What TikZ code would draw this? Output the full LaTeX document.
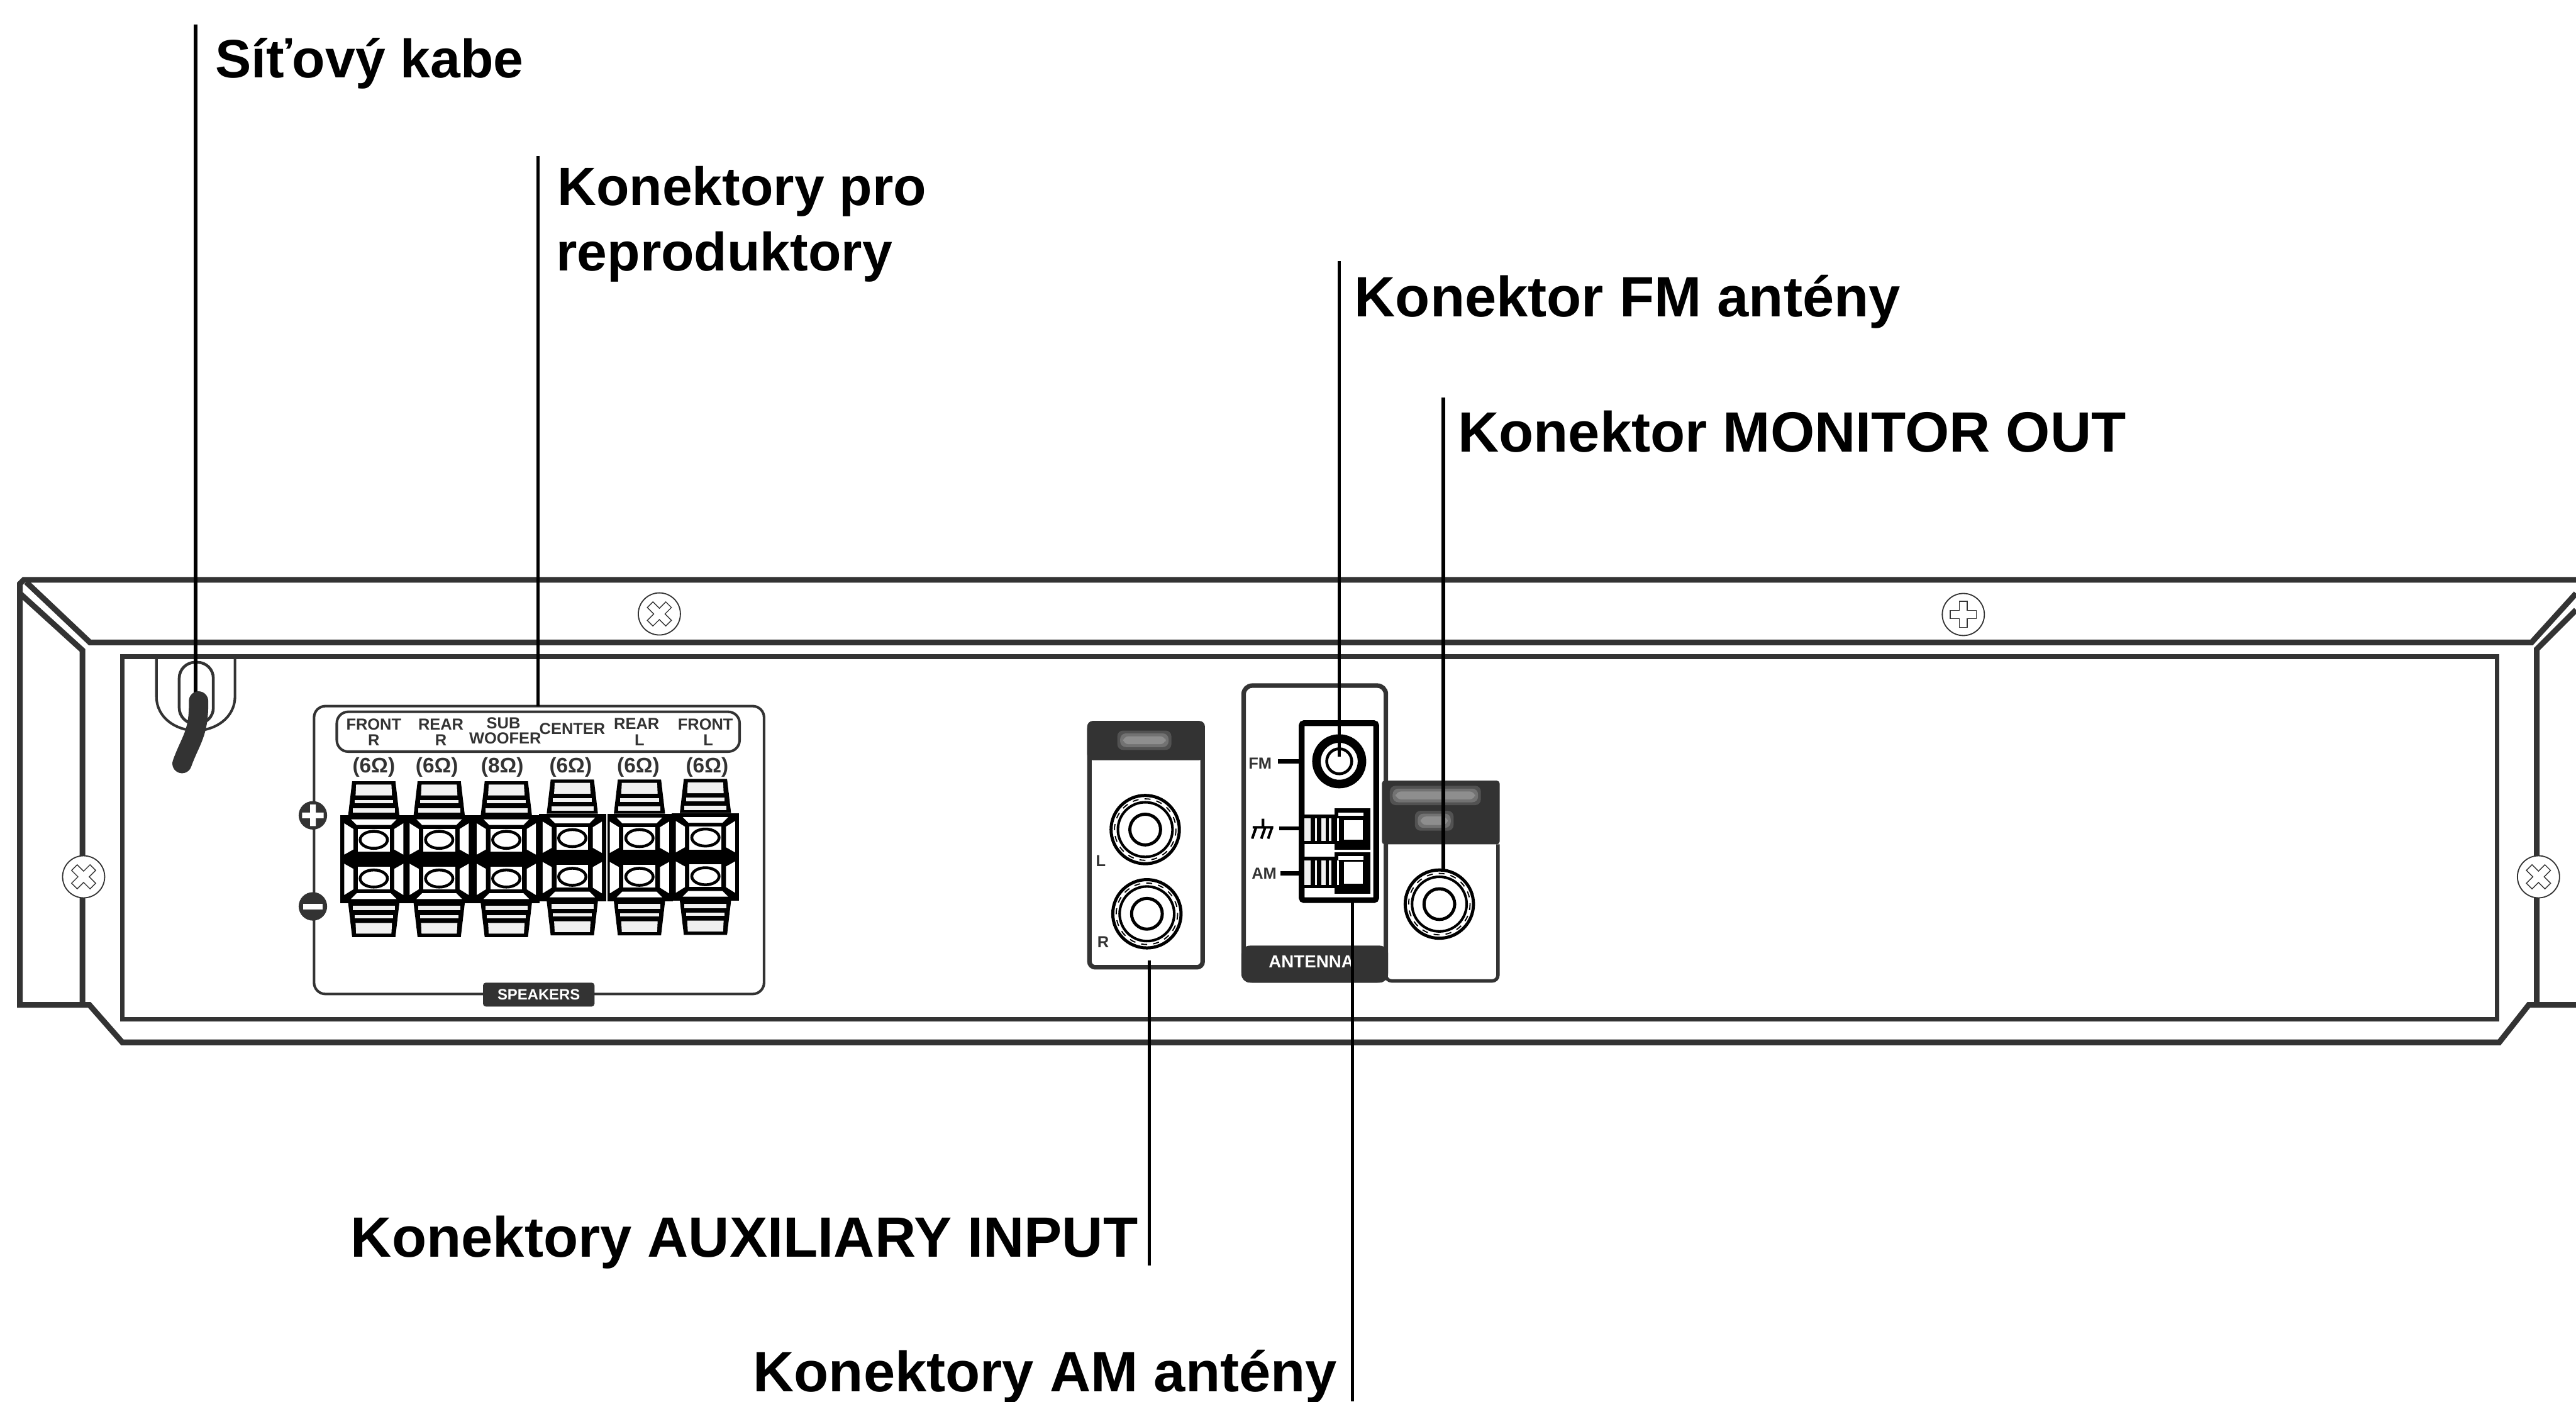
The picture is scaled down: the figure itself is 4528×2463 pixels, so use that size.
\documentclass[tikz,border=0pt]{standalone}
\usepackage{fontspec}
\setmainfont{Liberation Sans}
\definecolor{framegray}{HTML}{333333}
\definecolor{capgray}{HTML}{F0F0F0}
\definecolor{smudgegray}{HTML}{9A9A9A}
\newcommand{\smudgebox}[4]{%
  \foreach \inset/\op in {0/0.3,5/0.45,10/0.7}
    \fill[smudgegray,opacity=\op,rounded corners=1mm] ({#1+\inset},{#2+\inset}) rectangle ({#3-\inset},{#4-\inset});
}
\tikzset{
  frame/.style={line width=1mm,draw=framegray},
  panel/.style={line width=0.8mm,draw=framegray},
  thinbox/.style={line width=0.45mm,draw=framegray,rounded corners=2mm},
  leader/.style={line width=0.6mm,draw=black},
  lbl/.style={anchor=base west,inner sep=0pt,font=\fontsize{28.4}{32}\selectfont\bfseries},
  lblnarrow/.style={lbl,font=\fontsize{27}{32}\selectfont\bfseries},
  tiny/.style={inner sep=0pt,text=framegray,font=\fontsize{8}{9}\selectfont\bfseries},
  ohm/.style={inner sep=0pt,text=framegray,font=\fontsize{10.5}{11}\selectfont\bfseries},
  tag/.style={inner sep=0pt,text=white,font=\fontsize{8.7}{10}\selectfont\bfseries},
  screw/.pic={
    \filldraw[draw=framegray,fill=white,line width=0.2mm] (0,0) circle[radius=37];
    \draw[draw=framegray,line width=0.15mm] (-7,-23)--(7,-23)--(7,-7)--(23,-7)--(23,7)--(7,7)--(7,23)
      --(-7,23)--(-7,7)--(-23,7)--(-23,-7)--(-7,-7)--cycle;
  },
  rca/.pic={
    \filldraw[draw=black,fill=white,line width=0.55mm] (0,0) circle[radius=60];
    \draw[black,line width=0.2mm,dashed] (0,0) circle[radius=54];
    \draw[black,line width=0.45mm] (0,0) circle[radius=48];
    \draw[black,line width=0.55mm] (0,0) circle[radius=27];
  },
  terminal/.pic={
    \foreach \s in {1,-1}{
      \begin{scope}[yscale=\s]
        \fill[black] (-38,-137)--(38,-137)--(45,-77)--(-45,-77)--cycle;
        \fill[capgray] (-31,-131)--(31,-131)--(32,-112)--(-32,-112)--cycle;
        \fill[capgray] (-34,-104) rectangle (34,-98);
        \fill[capgray] (-37,-90) rectangle (37,-82);
        \fill[black] (-59,-77) rectangle (59,0);
        \fill[white] (-40,-70)--(40,-70)--(30,-60)--(-30,-60)--cycle;
        \fill[white] (-52,-63)--(-36,-53)--(-36,-17)--(-52,-8)--cycle;
        \fill[white] (52,-63)--(36,-53)--(36,-17)--(52,-8)--cycle;
        \fill[white] (-28,-53) rectangle (28,-13);
        \draw[black,line width=0.5mm] (0,-34) ellipse[x radius=24,y radius=15];
      \end{scope}
    }
  },
}
\begin{document}
\begin{tikzpicture}[x=0.01cm,y=-0.01cm]
  \useasboundingbox (0,0) rectangle (4528,2463);
  % cabinet
  \draw[frame] (4528,1019) -- (42,1019) -- (35,1026) -- (35,1766) -- (157,1766) -- (215,1832) -- (4393,1832)
    -- (4445,1766) -- (4528,1766);
  \draw[frame] (46,1023) -- (158,1129) -- (4450,1129) -- (4528,1043);
  \draw[frame] (35,1043) -- (145,1143) -- (145,1766);
  \draw[frame] (4528,1072) -- (4459,1141) -- (4459,1766);
  \draw[panel] (215,1154) rectangle (4389,1791);
  \pic at (1159,1079) [rotate=45] {screw};
  \pic at (3451,1080) {screw};
  \pic at (147,1541) [rotate=45] {screw};
  \pic at (4462,1541) [rotate=45] {screw};
  % mains cable
  \draw[framegray,line width=0.45mm] (275,1154) -- (275,1224) .. controls (275,1262) and (310,1284) .. (344,1284)
    .. controls (378,1284) and (413,1262) .. (413,1224) -- (413,1154);
  \draw[framegray,line width=0.5mm,rounded corners=2.8mm] (315,1164) rectangle (375,1272);
  % speaker terminals
  \draw[thinbox] (552,1241) rectangle (1343,1747);
  \draw[thinbox] (592,1251) rectangle (1300,1321);
  \node[tiny] (nfrontr) at (657,1273) {FRONT};
  \node[tiny] (nfrontrr) at (657,1301) {R};
  \node[tiny] (nrearr) at (775,1273) {REAR};
  \node[tiny] (nrearrr) at (775,1301) {R};
  \node[tiny] (nsub) at (885,1271) {SUB};
  \node[tiny] (nwoofer) at (888,1297) {WOOFER};
  \node[tiny] (ncenter) at (1006,1281) {CENTER};
  \node[tiny] (nrearl) at (1119,1272) {REAR};
  \node[tiny] (nrearll) at (1124,1301) {L};
  \node[tiny] (nfrontl) at (1240,1273) {FRONT};
  \node[tiny] (nfrontll) at (1245,1301) {L};
  \foreach \cx/\ox/\val in {657/657/6,772/768/6,890/883/8,1006/1003/6,1124/1122/6,1240/1243/6}
    \node[ohm] (ohm\cx) at (\ox,1348) {(\val Ω)};
  \foreach \cx/\dy in {657/0,772/0,890/0,1006/-3,1124/-3,1240/-4}
    \pic at (\cx,{1510+\dy}) {terminal};
  \draw[white,line width=0.25mm] (1067,1431) -- (1067,1586);
  \fill[framegray] (550,1433) ellipse[x radius=25,y radius=25];
  \fill[white] (545,1414) rectangle (555,1452) (531,1428) rectangle (569,1438);
  \fill[framegray] (550,1593) ellipse[x radius=25,y radius=25];
  \fill[white] (533,1588) rectangle (567,1598);
  \fill[framegray,rounded corners=0.5mm] (849,1727) rectangle (1045,1769);
  \node[tag,font=\fontsize{7.5}{9}\selectfont\bfseries] (nspeakers) at (947,1748) {SPEAKERS};
  % auxiliary input
  \draw[panel,fill=white,rounded corners=1mm] (1915,1271) rectangle (2114,1700);
  \fill[framegray,rounded corners=1mm] (1911,1267) -- (2118,1267) -- (2118,1336) -- (1911,1336) -- cycle;
  \smudgebox{1964}{1284}{2059}{1318}
  \pic at (2013,1458) {rca};
  \pic at (2016,1606) {rca};
  \node[tiny] (nauxl) at (1935,1513) {L};
  \node[tiny] (nauxr) at (1939,1656) {R};
  % antenna
  \draw[frame,line width=0.8mm,fill=white,rounded corners=1.5mm] (2186,1205) rectangle (2436,1723);
  \fill[framegray,rounded corners=1.5mm] (2182,1727) -- (2182,1662) -- (2440,1662) -- (2440,1727) -- cycle;
  \node[tag] (nantenna) at (2305,1690) {ANTENNA};
  \draw[black,line width=1mm,rounded corners=0.4mm] (2288,1271) rectangle (2419,1582);
  \draw[black,line width=1.5mm] (2354,1338) circle[radius=40];
  \draw[black,line width=0.5mm] (2354,1338) circle[radius=22];
  \node[tiny] (nfm) at (2215,1342) {FM};
  \node[tiny] (nam) at (2222,1535) {AM};
  \coordinate (fmtick) at (2246,1338);
  \coordinate (gndtick) at (2248,1456);
  \coordinate (amtick) at (2251,1535);
  \draw[black,line width=0.7mm] (fmtick) -- (2288,1338);
  \draw[black,line width=0.7mm] (gndtick) -- (2288,1456);
  \draw[black,line width=0.7mm] (amtick) -- (2288,1535);
  \draw[black,line width=0.45mm] (2220,1439) -- (2220,1454) (2202,1454) -- (2238,1454)
    (2208,1454) -- (2201,1474) (2224,1454) -- (2217,1474) (2236,1454) -- (2229,1474);
  % antenna clips
  \foreach \ya/\yb/\yc/\yd in {1432/1484/1421/1494,1506/1561/1498/1571}{
    \fill[black] (2293,\ya) rectangle (2409,\yb);
    \fill[black] (2346,\yc) rectangle (2409,\yd);
    \fill[capgray] (2293,{\ya+6}) rectangle (2304,{\yb-6});
    \fill[capgray] (2311,{\ya+6}) rectangle (2315,{\yb-6});
    \fill[capgray] (2322,{\ya+6}) rectangle (2330,{\yb-6});
    \fill[capgray] (2336,{\ya+6}) rectangle (2340,{\yb-6});
    \fill[white] (2350,{\ya+6}) rectangle (2354,{\yb-6});
    \fill[white] (2362,{\ya+9}) rectangle (2395,{\yb-8});
    \fill[white] (2352,{\yc+7}) rectangle (2397,{\yc+13});
  }
  % monitor out
  \draw[frame,line width=0.6mm,rounded corners=1mm] (2436,1484) -- (2436,1724) -- (2633,1724) -- (2633,1484);
  \fill[framegray,rounded corners=0.5mm] (2429,1372) rectangle (2636,1484);
  \smudgebox{2443}{1381}{2603}{1415}
  \smudgebox{2487}{1425}{2555}{1460}
  \pic at (2530,1589) {rca};
  % labels
  \node[lblnarrow] (lblcable) at (378,136) {Síťový kabe};
  \node[lblnarrow] (lblspeaker) at (979,361) {Konektory pro};
  \node[lblnarrow] (lblspeakertwo) at (977,476) {reproduktory};
  \node[lbl] (lblfm) at (2380,557) {Konektor FM antény};
  \node[lbl] (lblmonitor) at (2562,794) {Konektor MONITOR OUT};
  \node[lbl,anchor=base east] (lblaux) at (2001,2209) {Konektory AUXILIARY INPUT};
  \node[lbl,anchor=base east] (lblam) at (2351,2446) {Konektory AM antény};
  % leaders
  \coordinate (cabletop) at (344,43);
  \coordinate (cableend) at (344,1230);
  \coordinate (speakertop) at (946,274);
  \coordinate (speakerend) at (946,1241);
  \coordinate (fmtop) at (2354,459);
  \coordinate (fmend) at (2354,1330);
  \coordinate (monitortop) at (2537,699);
  \coordinate (monitorend) at (2537,1530);
  \coordinate (auxend) at (2020,1688);
  \coordinate (auxbottom) at (2020,2224);
  \coordinate (amend) at (2377,1585);
  \coordinate (ambottom) at (2377,2463);
  \draw[leader] (cabletop) -- (cableend);
  \draw[leader] (speakertop) -- (speakerend);
  \draw[leader] (fmtop) -- (fmend);
  \draw[leader] (monitortop) -- (monitorend);
  \draw[leader] (auxend) -- (auxbottom);
  \draw[leader] (amend) -- (ambottom);
  \draw[framegray,line width=3.4mm,line cap=round] (349,1232) .. controls (350,1290) and (335,1300) .. (320,1342);
\end{tikzpicture}
\end{document}
